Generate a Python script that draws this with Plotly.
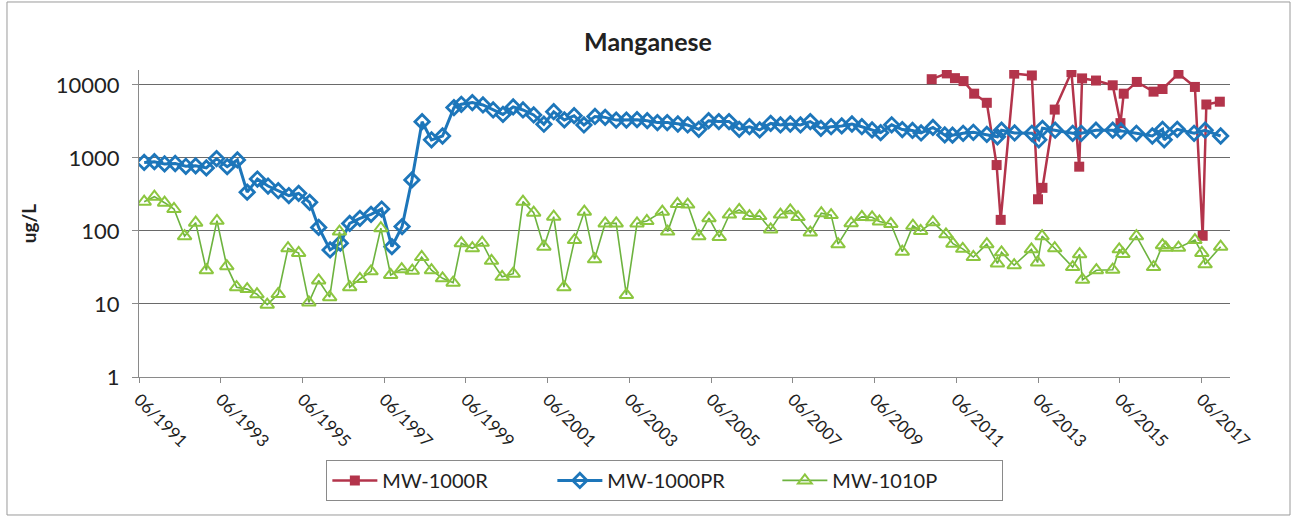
import plotly.graph_objects as go
from datetime import datetime, timedelta

# sampling dates as decimal years, values in ug/L
red_years = [2010.81, 2011.18, 2011.38, 2011.59, 2011.85, 2012.16, 2012.40, 2012.50, 2012.83, 2013.26,
             2013.41, 2013.52, 2013.82, 2014.23, 2014.42, 2014.49, 2014.83, 2015.24, 2015.43, 2015.51,
             2015.83, 2016.24, 2016.46, 2016.85, 2017.25, 2017.44, 2017.53, 2017.86]
red_vals = [12000, 14400, 12400, 11300, 7600, 5700, 800, 142, 14300, 13500,
            272, 390, 4600, 15000, 760, 12300, 11500, 9900, 3000, 7600,
            11000, 8100, 8800, 14300, 9400, 86, 5400, 5900]

blue_years = [1991.54, 1991.79, 1992.04, 1992.30, 1992.56, 1992.80, 1993.06, 1993.31, 1993.57, 1993.82,
              1994.06, 1994.31, 1994.57, 1994.82, 1995.08, 1995.32, 1995.59, 1995.81, 1996.09, 1996.34,
              1996.57, 1996.82, 1997.09, 1997.35, 1997.60, 1997.85, 1998.09, 1998.34, 1998.57, 1998.84,
              1999.12, 1999.30, 1999.57, 1999.83, 2000.08, 2000.32, 2000.57, 2000.81, 2001.07, 2001.32,
              2001.56, 2001.82, 2002.06, 2002.30, 2002.57, 2002.82, 2003.09, 2003.34, 2003.60, 2003.85,
              2004.10, 2004.34, 2004.60, 2004.84, 2005.11, 2005.35, 2005.60, 2005.85, 2006.10, 2006.35,
              2006.60, 2006.87, 2007.11, 2007.35, 2007.60, 2007.84, 2008.10, 2008.35, 2008.61, 2008.86,
              2009.10, 2009.35, 2009.56, 2009.83, 2010.09, 2010.34, 2010.55, 2010.84, 2011.13, 2011.32,
              2011.58, 2011.83, 2012.16, 2012.42, 2012.52, 2012.84, 2013.26, 2013.43, 2013.52, 2013.83,
              2014.26, 2014.47, 2014.83, 2015.24, 2015.44, 2015.82, 2016.21, 2016.46, 2016.50, 2016.82,
              2017.23, 2017.50, 2017.88]
blue_vals = [870, 890, 830, 840, 770, 780, 730, 980, 760, 940,
             340, 515, 413, 356, 305, 328, 247, 112, 55, 68,
             127, 149, 169, 200, 61, 115, 500, 3140, 1770, 2000,
             4900, 5440, 5730, 5320, 4545, 3950, 5000, 4545, 3880, 2900,
             4300, 3320, 3800, 2830, 3700, 3600, 3300, 3300, 3350, 3240,
             3050, 3050, 2920, 2830, 2470, 3240, 3150, 3150, 2470, 2680,
             2420, 2980, 2830, 2920, 2830, 3150, 2550, 2680, 2750, 2920,
             2680, 2420, 2220, 2850, 2450, 2380, 2200, 2620, 2070, 2050,
             2180, 2250, 2100, 1950, 2400, 2200, 2180, 1770, 2550, 2400,
             2180, 2180, 2400, 2400, 2350, 2180, 2000, 2470, 1770, 2470,
             2180, 2400, 2000]

green_years = [1991.54, 1991.79, 1992.04, 1992.27, 1992.53, 1992.80, 1993.06, 1993.32, 1993.56, 1993.80,
               1994.06, 1994.30, 1994.55, 1994.82, 1995.06, 1995.32, 1995.57, 1995.81, 1996.08, 1996.32,
               1996.57, 1996.82, 1997.09, 1997.33, 1997.57, 1997.84, 1998.10, 1998.33, 1998.57, 1998.84,
               1999.10, 1999.30, 1999.57, 1999.81, 2000.04, 2000.30, 2000.57, 2000.81, 2001.07, 2001.32,
               2001.56, 2001.81, 2002.07, 2002.31, 2002.56, 2002.82, 2003.09, 2003.34, 2003.60, 2003.84,
               2004.22, 2004.35, 2004.59, 2004.84, 2005.11, 2005.36, 2005.61, 2005.86, 2006.10, 2006.35,
               2006.60, 2006.87, 2007.11, 2007.35, 2007.54, 2007.84, 2008.11, 2008.35, 2008.52, 2008.84,
               2009.10, 2009.35, 2009.53, 2009.81, 2010.09, 2010.35, 2010.54, 2010.84, 2011.16, 2011.33,
               2011.57, 2011.83, 2012.16, 2012.42, 2012.52, 2012.83, 2013.25, 2013.40, 2013.51, 2013.82,
               2014.26, 2014.43, 2014.50, 2014.84, 2015.24, 2015.40, 2015.49, 2015.82, 2016.24, 2016.46,
               2016.54, 2016.85, 2017.25, 2017.42, 2017.50, 2017.88]
green_vals = [252, 295, 244, 200, 85, 130, 29, 138, 33, 17,
              16, 13.6, 9.8, 13.7, 58, 50, 10.5, 21, 12.4, 98,
              17, 22, 28, 109, 25, 30, 28.6, 44, 29, 22.5,
              19.6, 68, 58, 69, 39, 23.6, 26, 252, 178, 61,
              157, 17, 75, 184, 41, 127, 127, 13.3, 127, 137,
              184, 98, 235, 230, 85, 150, 83, 168, 195, 160,
              160, 105, 168, 192, 155, 95, 175, 165, 66, 128,
              156, 154, 135, 125, 52, 118, 100, 132, 90, 67,
              57, 44, 66, 36, 51, 34, 56, 37, 85, 58,
              32, 48, 21.5, 29, 29.5, 56, 48.5, 85, 32, 64,
              59, 59, 75, 50, 35, 61]

y_tickvals = [1, 10, 100, 1000, 10000]
y_ticktext = ["1", "10", "100", "1000", "10000"]


def to_dates(years):
    return [datetime(int(y), 1, 1) + timedelta(days=(y - int(y)) * 365.25) for y in years]


fig = go.Figure()

fig.add_trace(go.Scatter(
    x=to_dates(red_years), y=red_vals, name="MW-1000R", mode="lines+markers",
    line=dict(color="#B3344B", width=2.5),
    marker=dict(symbol="square", size=10, color="#B3344B")
))
fig.add_trace(go.Scatter(
    x=to_dates(blue_years), y=blue_vals, name="MW-1000PR", mode="lines+markers",
    line=dict(color="#1D76BA", width=3),
    marker=dict(symbol="diamond-open", size=11, color="#1D76BA", line=dict(width=2.8))
))
fig.add_trace(go.Scatter(
    x=to_dates(green_years), y=green_vals, name="MW-1010P", mode="lines+markers",
    line=dict(color="#6DB33F", width=1.6),
    marker=dict(symbol="triangle-up-open", size=12, color="#8CC63F", line=dict(width=2))
))

fig.update_layout(
    width=1296, height=518, autosize=False,
    margin=dict(l=139, r=66, t=70, b=141),
    paper_bgcolor="white", plot_bgcolor="white",
    font=dict(family="Lato, Open Sans, sans-serif", color="#222222"),
    title=dict(text="<b>Manganese</b>", x=0.5, xanchor="center", y=0.918, yanchor="middle",
               font=dict(size=25, color="#222222")),
    showlegend=True,
    legend=dict(orientation="h", x=0.482, xanchor="center", y=-0.27, yanchor="top",
                bordercolor="#8a8a8a", borderwidth=1, font=dict(size=20),
                itemwidth=45, entrywidth=165, tracegroupgap=0),
    xaxis=dict(
        type="date", range=[datetime(1991, 6, 1), datetime(2018, 2, 10)],
        tick0="1991-06-01", dtick="M24", tickformat="%m/%Y", tickangle=45,
        showgrid=False, showline=True, linecolor="#8a8a8a", linewidth=1,
        ticks="outside", ticklen=5, tickcolor="#8a8a8a",
        tickfont=dict(size=17), zeroline=False
    ),
    yaxis=dict(
        type="log", range=[0, 4.205],
        tickvals=y_tickvals, ticktext=y_ticktext, tickfont=dict(size=22),
        ticklabelstandoff=8,
        showgrid=True, gridcolor="#6a6a6a", gridwidth=1,
        showline=True, linecolor="#8a8a8a", linewidth=1,
        ticks="outside", ticklen=6, tickcolor="#8a8a8a",
        title=dict(text="<b>ug/L</b>", font=dict(size=19), standoff=14),
        zeroline=False
    ),
    shapes=[dict(type="rect", xref="paper", yref="paper",
                 x0=-0.121, x1=1.055, y0=-0.4495, y1=1.2215,
                 line=dict(color="#9a9a9a", width=1), fillcolor="rgba(0,0,0,0)", layer="below")]
)

fig.write_html("out.html", config={"displayModeBar": False},
               post_script="document.body.style.margin='0';")
